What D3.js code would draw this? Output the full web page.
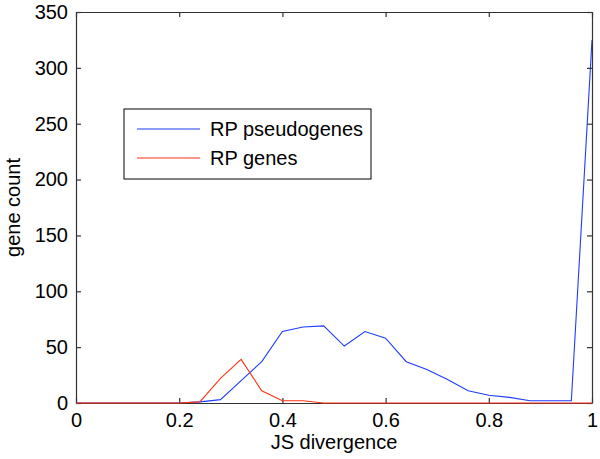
<!DOCTYPE html>
<html><head><meta charset="utf-8">
<script src="https://cdn.jsdelivr.net/npm/d3@7"></script>
<style>body{margin:0;background:#fff}svg{display:block}text{font-family:"Liberation Sans",Arial,Helvetica,sans-serif}</style>
</head><body>
<svg id="c" width="600" height="459"></svg>
<script>
const xBins = [0,0.04,0.08,0.12,0.16,0.2,0.24,0.28,0.32,0.36,0.4,0.44,0.48,0.52,0.56,0.6,0.64,0.68,0.72,0.76,0.8,0.84,0.88,0.92,0.96,1.0];
const pseudogenes = [0,0,0,0,0,0,1,3,20,37,64,68,69,51,64,58,37,30,21,11,7,5,2,2,2,325];
const genes = [0,0,0,0,0,0,1,22,39,11,2,2,0,0,0,0,0,0,0,0,0,0,0,0,0,0];
const xTicks = [0,0.2,0.4,0.6,0.8,1];
const yTicks = [0,50,100,150,200,250,300,350];
const seriesNames = ["RP pseudogenes","RP genes"];

const svg = d3.select("#c");
const L=76,R=592,T=12,B=403;
const x = d3.scaleLinear().domain([0,1]).range([L,R]);
const y = d3.scaleLinear().domain([0,350]).range([B,T]);
const fs = 20;
const cols=["#1f3cff","#ff3214"];

const line = d3.line().x((d,i)=>x(xBins[i])).y(d=>y(d));
svg.append("path").datum(pseudogenes).attr("d",line).attr("fill","none").attr("stroke",cols[0]).attr("stroke-width",1.1);

const g = svg.append("g");
const axB = d3.axisBottom(x).tickValues(xTicks).tickSizeInner(-5).tickSizeOuter(0).tickPadding(10).tickFormat(d3.format("~g"));
const axT = d3.axisTop(x).tickValues(xTicks).tickSizeInner(-5).tickSizeOuter(0).tickFormat("");
const axLf = d3.axisLeft(y).tickValues(yTicks).tickSizeInner(-5).tickSizeOuter(0).tickPadding(8);
const axRt = d3.axisRight(y).tickValues(yTicks).tickSizeInner(-5).tickSizeOuter(0).tickFormat("");
function styl(sel){sel.selectAll("path").attr("stroke","#333").attr("stroke-width",1.2);sel.selectAll("line").attr("stroke","#333").attr("stroke-width",1.2);sel.selectAll("text").attr("font-size",fs).attr("fill","#000").attr("font-family",'"Liberation Sans",Arial,sans-serif');}
g.append("g").attr("transform",`translate(0,${B})`).call(axB).call(styl);
g.append("g").attr("transform",`translate(0,${T})`).call(axT).call(styl);
g.append("g").attr("transform",`translate(${L},0)`).call(axLf).call(styl);
g.append("g").attr("transform",`translate(${R},0)`).call(axRt).call(styl);
svg.append("path").datum(genes).attr("d",line).attr("fill","none").attr("stroke",cols[1]).attr("stroke-width",1.1);

svg.append("text").attr("x",(L+R)/2).attr("y",449).attr("text-anchor","middle").attr("font-size",fs).text("JS divergence");
svg.append("text").attr("transform",`translate(20,${(T+B)/2}) rotate(-90)`).attr("text-anchor","middle").attr("font-size",fs).text("gene count");

const lg = svg.append("g");
lg.append("rect").attr("x",124).attr("y",109).attr("width",247).attr("height",70).attr("fill","#fff").attr("stroke","#000").attr("stroke-width",1);
seriesNames.forEach((n,i)=>{
  const yy = 129 + i*29;
  lg.append("line").attr("x1",137).attr("x2",200).attr("y1",yy).attr("y2",yy).attr("stroke",cols[i]).attr("stroke-width",1.1);
  lg.append("text").attr("x",210).attr("y",yy+7).attr("font-size",fs).text(n);
});
</script>
</body></html>
